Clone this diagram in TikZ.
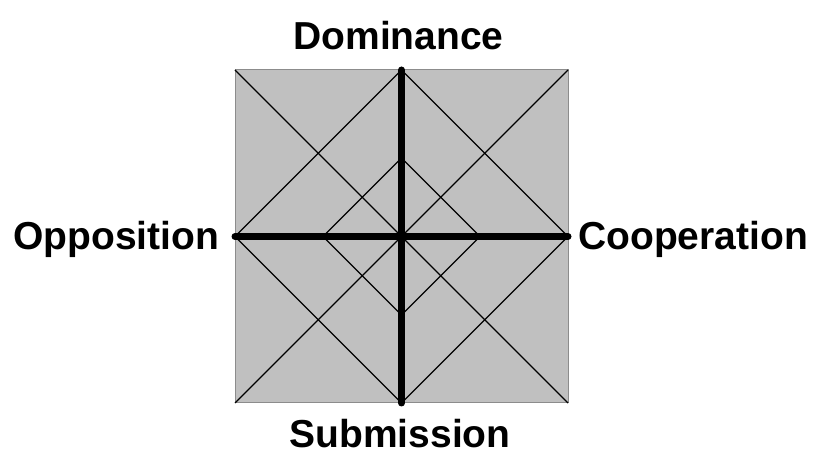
\documentclass[tikz,border=0pt]{standalone}
\usepackage{fontspec}
\setmainfont{Liberation Sans}
\begin{document}
\begin{tikzpicture}[x=1pt,y=-1pt,
  lbl/.style={font=\fontsize{39}{44}\selectfont\bfseries,inner sep=0pt,text=black},
  thin/.style={draw=black,line width=1.1pt},
  axis/.style={draw=black,line width=7pt,line cap=round}]
\useasboundingbox (0,0) rectangle (815,454);
\fill[white] (0,0) rectangle (815,454);
% square corners and midpoints
\coordinate (tl) at (235,70);
\coordinate (tr) at (568,70);
\coordinate (br) at (568,403);
\coordinate (bl) at (235,403);
\coordinate (c) at (401.5,236.5);
\coordinate (tm) at (401.5,70);
\coordinate (bm) at (401.5,403);
\coordinate (lm) at (235,236.5);
\coordinate (rm) at (568,236.5);
\coordinate (it) at (401.5,158);
\coordinate (ib) at (401.5,315);
\coordinate (il) at (323,236.5);
\coordinate (ir) at (480,236.5);
\draw[fill={rgb,255:red,192;green,192;blue,192},draw={rgb,255:red,140;green,140;blue,140},line width=1pt] (tl) rectangle (br);
\draw[thin] (tl) -- (br);
\draw[thin] (tr) -- (bl);
\draw[thin] (tm) -- (rm) -- (bm) -- (lm) -- cycle;
\draw[thin] (it) -- (ir) -- (ib) -- (il) -- cycle;
\draw[axis] (tm) -- (bm);
\draw[axis] (lm) -- (rm);
\node[lbl,anchor=base] (dom) at (398.5,50) {Dominance};
\node[lbl,anchor=base] (sub) at (400,448) {Submission};
\node[lbl,anchor=base west] (opp) at (13,250) {Opposition};
\node[lbl,anchor=base west] (coo) at (578,250) {Cooperation};
\end{tikzpicture}
\end{document}
